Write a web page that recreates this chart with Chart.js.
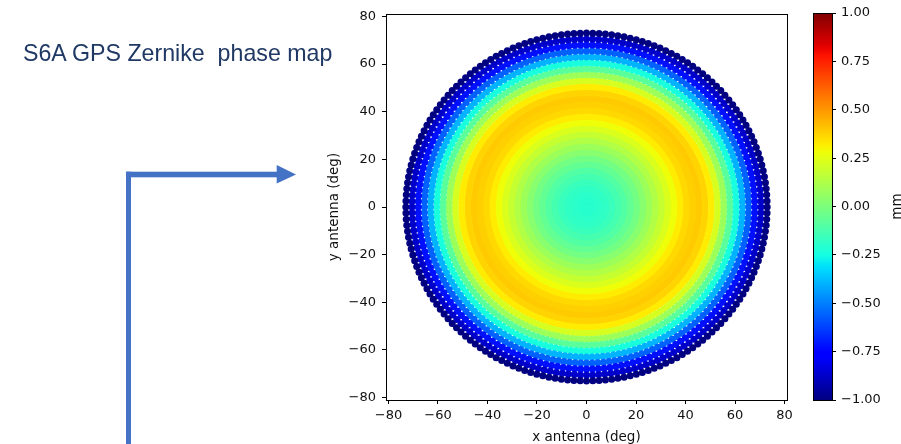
<!DOCTYPE html>
<html>
<head>
<meta charset="utf-8">
<script src="https://cdn.jsdelivr.net/npm/chart.js@4.4.1/dist/chart.umd.min.js"></script>
<style>
  html, body { margin: 0; padding: 0; background: #fff; }
  #wrap { position: relative; width: 901px; height: 444px; overflow: hidden; background: #fff; }
  #main { position: absolute; left: 0; top: 0; }
  #cbar { position: absolute; left: 800px; top: 0; }
  #title { position: absolute; left: 23px; top: 42px; font-family: "Liberation Sans", Arial, sans-serif;
           font-size: 23.2px; line-height: 23px; color: #1F3864; white-space: pre; z-index: 2; }
  #arrows { position: absolute; left: 0; top: 0; z-index: 1; }
</style>
</head>
<body>
<div id="wrap">
  <canvas id="main" width="800" height="444"></canvas>
  <canvas id="cbar" width="101" height="444"></canvas>
  <div id="title">S6A GPS Zernike  phase map</div>
  <svg id="arrows" width="901" height="444" viewBox="0 0 901 444">
    <rect x="126" y="171.7" width="5" height="272.3" fill="#4472C4"/>
    <rect x="126" y="171.7" width="152" height="5.6" fill="#4472C4"/>
    <polygon points="276.7,165 296,174.6 276.7,183.6" fill="#4472C4"/>
  </svg>
</div>
<script>
// ---------------- data ----------------
const ringZenith = [0.5, 3, 5.5, 8, 10.5, 13, 15.5, 18, 20.5, 23, 25.5, 28, 30.5, 33, 35.5,
                    38, 40.5, 43, 45.5, 48, 50.5, 53, 55.5, 58, 60.5, 63, 65.5, 68, 70.5, 73];
const ringPhase  = [-0.20, -0.20, -0.19, -0.18, -0.16, -0.13, -0.10, -0.06, -0.02, 0.03, 0.08, 0.13, 0.18, 0.23, 0.28,
                    0.32, 0.36, 0.38, 0.39, 0.37, 0.32, 0.22, 0.08, -0.08, -0.24, -0.40, -0.56, -0.72, -0.87, -1.00];
const azimuthStepDeg = 2;
const axisTicks = [-80, -60, -40, -20, 0, 20, 40, 60, 80];
const colorbarTicks = [-1.00, -0.75, -0.50, -0.25, 0.00, 0.25, 0.50, 0.75, 1.00];
const xLabel = 'x antenna (deg)';
const yLabel = 'y antenna (deg)';
const cbLabel = 'mm';

// ---------------- jet colormap ----------------
const JET = {
  r: [[0,0],[0.35,0],[0.66,1],[0.89,1],[1,0.5]],
  g: [[0,0],[0.125,0],[0.375,1],[0.64,1],[0.91,0],[1,0]],
  b: [[0,0.5],[0.11,1],[0.34,1],[0.65,0],[1,0]]
};
function seg(pts, t) {
  for (let i = 0; i < pts.length - 1; i++) {
    const [t0, v0] = pts[i], [t1, v1] = pts[i + 1];
    if (t <= t1) return v0 + (v1 - v0) * (t - t0) / (t1 - t0);
  }
  return pts[pts.length - 1][1];
}
function jet(v) {
  let t = (v + 1) / 2; t = Math.max(0, Math.min(1, t));
  const r = Math.round(255 * seg(JET.r, t)), g = Math.round(255 * seg(JET.g, t)), b = Math.round(255 * seg(JET.b, t));
  return `rgb(${r},${g},${b})`;
}
const minus = s => s.replace('-', '\u2212');

// ---------------- build points ----------------
const pts = [], cols = [];
ringZenith.forEach((z, i) => {
  for (let a = 0; a < 360; a += azimuthStepDeg) {
    const r = a * Math.PI / 180;
    pts.push({ x: z * Math.cos(r), y: z * Math.sin(r) });
    cols.push(jet(ringPhase[i]));
  }
});

const FONT = 'DejaVu Sans';
const frame = {
  id: 'frame',
  afterDraw(chart) {
    const { ctx, chartArea: a } = chart;
    ctx.save();
    ctx.strokeStyle = '#000'; ctx.lineWidth = 1;
    ctx.strokeRect(Math.round(a.left) + 0.5, Math.round(a.top) + 0.5,
                   Math.round(a.right - a.left), Math.round(a.bottom - a.top));
    ctx.restore();
  }
};

Chart.defaults.animation = false;
Chart.defaults.font.family = FONT;
Chart.defaults.color = '#111';

new Chart(document.getElementById('main'), {
  type: 'scatter',
  data: { datasets: [{ data: pts, pointBackgroundColor: cols, pointRadius: 3.5, pointBorderWidth: 0, pointHoverRadius: 3.5 }] },
  options: {
    responsive: false,
    devicePixelRatio: 1,
    layout: { padding: { left: 326, top: 14, right: 13, bottom: 0 } },
    plugins: { legend: { display: false }, tooltip: { enabled: false } },
    events: [],
    scales: {
      x: {
        type: 'linear', position: 'bottom', min: -81, max: 81,
        afterBuildTicks: s => { s.ticks = axisTicks.map(v => ({ value: v })); },
        afterFit: s => { s.height = 44; },
        grid: { drawOnChartArea: false, drawTicks: true, tickLength: 4, color: '#000' },
        border: { display: false },
        ticks: { padding: 4, font: { size: 13 }, maxRotation: 0, autoSkip: false,
                 callback: v => minus(String(v)) },
        title: { display: true, text: xLabel, font: { size: 13.5, lineHeight: 1 }, padding: { top: 0, bottom: 0 } }
      },
      y: {
        type: 'linear', position: 'left', min: -81, max: 81,
        afterBuildTicks: s => { s.ticks = axisTicks.map(v => ({ value: v })); },
        afterFit: s => { s.width = 60; },
        grid: { drawOnChartArea: false, drawTicks: true, tickLength: 4, color: '#000' },
        border: { display: false },
        ticks: { padding: 6, font: { size: 13 }, autoSkip: false, callback: v => minus(String(v)) },
        title: { display: true, text: yLabel, font: { size: 13.5, lineHeight: 1 }, padding: { top: 2, bottom: 0 } }
      }
    }
  },
  plugins: [frame]
});

// ---------------- colorbar ----------------
const cbTitle = {
  id: 'cbTitle',
  afterDraw(chart) {
    const { ctx, chartArea: a } = chart;
    ctx.save();
    ctx.translate(97, (a.top + a.bottom) / 2);
    ctx.rotate(-Math.PI / 2);
    ctx.font = `13.5px "${FONT}"`;
    ctx.fillStyle = '#111'; ctx.textAlign = 'center'; ctx.textBaseline = 'middle';
    ctx.fillText(cbLabel, 0, 0);
    ctx.restore();
  }
};
new Chart(document.getElementById('cbar'), {
  type: 'bar',
  data: {
    labels: [cbLabel],
    datasets: [{
      data: [[colorbarTicks[0], colorbarTicks[colorbarTicks.length - 1]]],
      barPercentage: 1, categoryPercentage: 1, borderWidth: 0,
      backgroundColor: ctx => {
        const a = ctx.chart.chartArea;
        if (!a) return '#888';
        const g = ctx.chart.ctx.createLinearGradient(0, a.bottom, 0, a.top);
        for (let i = 0; i <= 64; i++) g.addColorStop(i / 64, jet(-1 + 2 * i / 64));
        return g;
      }
    }]
  },
  options: {
    responsive: false,
    devicePixelRatio: 1,
    layout: { padding: { left: 13, top: 13, right: 0, bottom: 44 } },
    plugins: { legend: { display: false }, tooltip: { enabled: false } },
    events: [],
    scales: {
      x: { display: false },
      y: {
        position: 'right', min: -1, max: 1,
        afterBuildTicks: s => { s.ticks = colorbarTicks.map(v => ({ value: v })); },
        afterFit: s => { s.width = 69; },
        grid: { drawOnChartArea: false, drawTicks: true, tickLength: 4, color: '#000' },
        border: { display: false },
        ticks: { padding: 5, font: { size: 13 }, autoSkip: false, callback: v => minus(Number(v).toFixed(2)) }
      }
    }
  },
  plugins: [frame, cbTitle]
});
</script>
</body>
</html>
